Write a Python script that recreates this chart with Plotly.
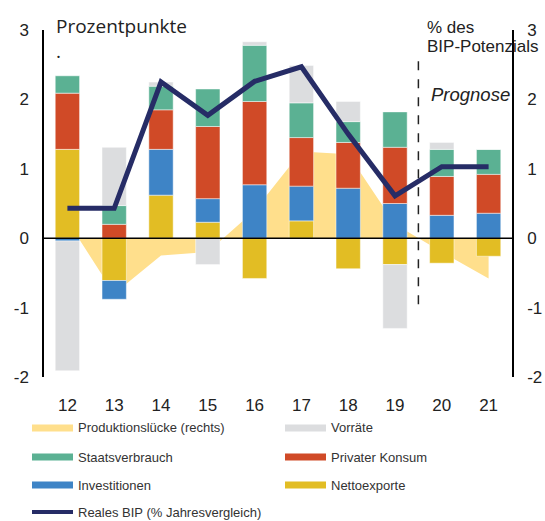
import plotly.graph_objects as go

# --- DATA ---
years = ["12", "13", "14", "15", "16", "17", "18", "19", "20", "21"]

nettoexporte = [1.28, -0.61, 0.62, 0.23, -0.58, 0.25, -0.44, -0.38, -0.36, -0.26]
investitionen = [-0.04, -0.27, 0.66, 0.34, 0.77, 0.50, 0.72, 0.50, 0.33, 0.36]
privater_konsum = [0.81, 0.20, 0.57, 1.04, 1.20, 0.70, 0.66, 0.81, 0.56, 0.56]
staatsverbrauch = [0.25, 0.27, 0.34, 0.54, 0.81, 0.50, 0.30, 0.51, 0.39, 0.36]
vorraete = [-1.87, 0.84, 0.06, -0.38, 0.05, 0.54, 0.29, -0.92, 0.10, 0.0]

produktionsluecke = [0.25, -0.80, -0.25, -0.20, 0.40, 1.25, 1.21, 0.20, -0.20, -0.58]
reales_bip = [0.43, 0.43, 2.25, 1.77, 2.26, 2.47, 1.50, 0.61, 1.03, 1.03]

y_ticks = [-2, -1, 0, 1, 2, 3]
y_tick_labels = ["-2", "-1", "0", "1", "2", "3"]

# colours
C_GAP = "#FFDF8C"
C_VORR = "#DCDDDF"
C_STAAT = "#5BB193"
C_KONSUM = "#D04A27"
C_INV = "#3E84C6"
C_NETTO = "#E2BD24"
C_BIP = "#262C66"

FONT = "Liberation Sans, Arial, sans-serif"

W, H = 545, 521
PLOT_L, PLOT_R, PLOT_T, PLOT_B = 44, 512, 30, 377   # pixels
PW, PH = PLOT_R - PLOT_L, PLOT_B - PLOT_T


def px_x(x):
    return (x - PLOT_L) / PW


def px_y(y):
    return (PLOT_B - y) / PH


fig = go.Figure()

# output gap area on the right axis (drawn underneath)
fig.add_trace(go.Scatter(
    x=years, y=produktionsluecke, name="Produktionslücke (rechts)",
    mode="lines", line=dict(width=0, color=C_GAP), fill="tozeroy",
    fillcolor=C_GAP, yaxis="y",
))

bar_line = dict(width=0.8, color="rgba(255,255,255,0.6)")
bars = [
    ("Nettoexporte", nettoexporte, C_NETTO),
    ("Investitionen", investitionen, C_INV),
    ("Privater Konsum", privater_konsum, C_KONSUM),
    ("Staatsverbrauch", staatsverbrauch, C_STAAT),
    ("Vorräte", vorraete, C_VORR),
]
for name, vals, col in bars:
    fig.add_trace(go.Bar(
        x=years, y=vals, name=name, marker=dict(color=col, line=bar_line),
        yaxis="y2",
    ))

fig.add_trace(go.Scatter(
    x=years, y=reales_bip, name="Reales BIP (% Jahresvergleich)",
    mode="lines", line=dict(width=5, color=C_BIP), yaxis="y2",
))

axis_common = dict(
    range=[-2, 3], tickvals=y_ticks, ticktext=y_tick_labels,
    showgrid=False, zeroline=False,
    showline=True, linecolor="#000", linewidth=1.5, ticks="",
    tickfont=dict(size=17, color="#222", family=FONT), automargin=False,
)

fig.update_layout(
    width=W, height=H,
    margin=dict(l=PLOT_L, r=W - PLOT_R, t=PLOT_T, b=H - PLOT_B),
    plot_bgcolor="white", paper_bgcolor="white",
    barmode="relative", bargap=0.48,
    font=dict(family=FONT, color="#222"),
    xaxis=dict(
        type="category", range=[-0.5, 9.5], showgrid=False, zeroline=False,
        showline=False, ticks="", ticklabelstandoff=16, automargin=False,
        tickfont=dict(size=17, color="#222", family=FONT),
    ),
    yaxis=dict(side="right", ticklabelstandoff=10, **axis_common),
    yaxis2=dict(side="left", overlaying="y", ticklabelstandoff=10, **axis_common),
    showlegend=False,
)

# zero line above the bars
fig.add_shape(type="line", xref="paper", x0=0, x1=1, yref="y", y0=0, y1=0,
              line=dict(color="#000", width=1.5), layer="above")
# forecast separator
fig.add_shape(type="line", xref="x", x0=7.5, x1=7.5, yref="y", y0=-0.95, y1=2.55,
              line=dict(color="#222", width=1.5, dash="dash"), layer="above")

fig.add_annotation(text="Prozentpunkte<br>.", xref="paper", yref="paper",
                   x=px_x(54), y=px_y(11), xanchor="left", yanchor="top", align="left",
                   showarrow=False, font=dict(size=19, family="Open Sans", color="#222"))
fig.add_annotation(text="% des", xref="paper", yref="paper",
                   x=px_x(425), y=px_y(27), xanchor="left", yanchor="middle", align="left",
                   showarrow=False, font=dict(size=17, family=FONT, color="#222"))
fig.add_annotation(text="BIP-Potenzials", xref="paper", yref="paper",
                   x=px_x(425), y=px_y(47), xanchor="left", yanchor="middle", align="left",
                   showarrow=False, font=dict(size=17, family=FONT, color="#222"))
fig.add_annotation(text="<i>Prognose</i>", xref="paper", yref="paper",
                   x=px_x(429), y=px_y(95), xanchor="left", yanchor="middle", align="left",
                   showarrow=False, font=dict(size=18.5, family=FONT, color="#222"))

# legend drawn as two columns below the chart
legend_items = [
    ("Produktionslücke (rechts)", C_GAP, 0, 428, 7),
    ("Vorräte", C_VORR, 1, 428, 7),
    ("Staatsverbrauch", C_STAAT, 0, 457, 7),
    ("Privater Konsum", C_KONSUM, 1, 457, 7),
    ("Investitionen", C_INV, 0, 485, 7),
    ("Nettoexporte", C_NETTO, 1, 485, 7),
    ("Reales BIP (% Jahresvergleich)", C_BIP, 0, 512, 4),
]
col_x = [32, 285]
for label, col, c, ypx, lw in legend_items:
    x0 = col_x[c]
    fig.add_shape(type="line", xref="paper", yref="paper",
                  x0=px_x(x0), x1=px_x(x0 + 41), y0=px_y(ypx), y1=px_y(ypx),
                  line=dict(color=col, width=lw))
    fig.add_annotation(text=label, xref="paper", yref="paper",
                       x=px_x(x0 + 44), y=px_y(ypx), xanchor="left", yanchor="middle",
                       showarrow=False, font=dict(size=13, family=FONT, color="#333"))

# drop the default page margin so the figure sits in the window corner
fig.write_html(
    "out.html",
    config={"displayModeBar": False},
    post_script="document.body.style.margin='0';document.body.style.overflow='hidden';",
)
